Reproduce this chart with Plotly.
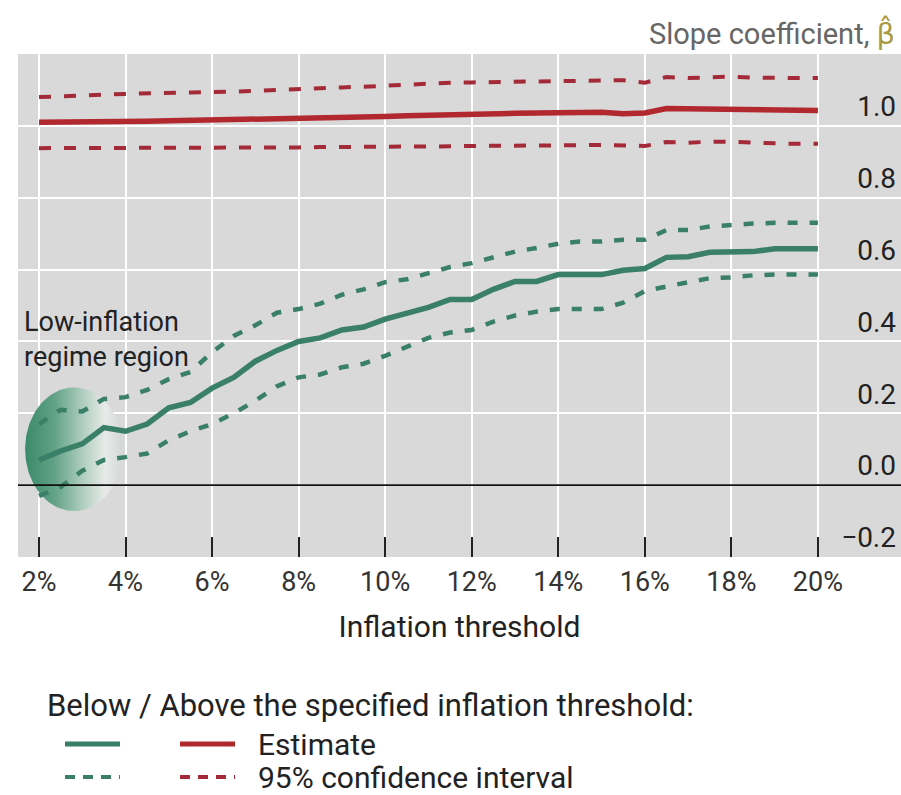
import math
import plotly.graph_objects as go

# Inflation thresholds (%) at which the slope coefficient is estimated
thresholds = [2.0, 2.5, 3.0, 3.5, 4.0, 4.5, 5.0, 5.5, 6.0, 6.5, 7.0, 7.5, 8.0,
              8.5, 9.0, 9.5, 10.0, 10.5, 11.0, 11.5, 12.0, 12.5, 13.0, 13.5,
              14.0, 14.5, 15.0, 15.5, 16.0, 16.5, 17.0, 17.5, 18.0, 18.5,
              19.0, 19.5, 20.0]

# Below the threshold: estimate and 95% confidence band
below_est = [0.070, 0.095, 0.115, 0.160, 0.150, 0.170, 0.215, 0.230, 0.270,
             0.300, 0.345, 0.375, 0.400, 0.410, 0.432, 0.440, 0.462, 0.480,
             0.495, 0.517, 0.517, 0.545, 0.567, 0.567, 0.586, 0.586, 0.586,
             0.598, 0.603, 0.634, 0.636, 0.648, 0.650, 0.650, 0.658, 0.658,
             0.658]
below_hi = [0.170, 0.210, 0.205, 0.240, 0.245, 0.265, 0.295, 0.315, 0.370,
            0.415, 0.445, 0.480, 0.490, 0.505, 0.530, 0.545, 0.565, 0.573,
            0.590, 0.607, 0.618, 0.635, 0.650, 0.660, 0.672, 0.678, 0.678,
            0.683, 0.683, 0.710, 0.710, 0.720, 0.725, 0.728, 0.730, 0.730,
            0.730]
below_lo = [-0.030, -0.005, 0.040, 0.070, 0.078, 0.088, 0.125, 0.150, 0.170,
            0.200, 0.235, 0.275, 0.300, 0.308, 0.328, 0.338, 0.360, 0.385,
            0.410, 0.425, 0.432, 0.455, 0.472, 0.483, 0.490, 0.490, 0.490,
            0.508, 0.540, 0.553, 0.563, 0.576, 0.578, 0.584, 0.586, 0.586,
            0.586]

# Above the threshold: estimate and 95% confidence band
above_est = [1.010, 1.010, 1.011, 1.012, 1.012, 1.013, 1.014, 1.015, 1.015,
             1.016, 1.017, 1.018, 1.019, 1.021, 1.022, 1.024, 1.026, 1.028,
             1.030, 1.032, 1.033, 1.033, 1.035, 1.036, 1.037, 1.038, 1.038,
             1.034, 1.036, 1.048, 1.047, 1.047, 1.048, 1.046, 1.044, 1.043,
             1.043]
above_hi = [1.080, 1.083, 1.086, 1.087, 1.089, 1.091, 1.092, 1.093, 1.094,
            1.095, 1.097, 1.100, 1.103, 1.105, 1.107, 1.109, 1.112, 1.114,
            1.117, 1.120, 1.121, 1.122, 1.123, 1.124, 1.125, 1.126, 1.126,
            1.127, 1.120, 1.136, 1.133, 1.136, 1.137, 1.134, 1.133, 1.133,
            1.133]
above_lo = [0.938, 0.938, 0.938, 0.939, 0.939, 0.939, 0.939, 0.940, 0.940,
            0.940, 0.940, 0.940, 0.940, 0.941, 0.941, 0.941, 0.941, 0.942,
            0.942, 0.943, 0.944, 0.944, 0.945, 0.945, 0.946, 0.946, 0.947,
            0.946, 0.944, 0.955, 0.953, 0.956, 0.956, 0.953, 0.951, 0.950,
            0.950]

x_ticks = [2, 4, 6, 8, 10, 12, 14, 16, 18, 20]
x_tick_labels = ["2%", "4%", "6%", "8%", "10%", "12%", "14%", "16%", "18%", "20%"]
y_ticks = [-0.2, 0.0, 0.2, 0.4, 0.6, 0.8, 1.0]
y_tick_labels = ["\u22120.2", "0.0", "0.2", "0.4", "0.6", "0.8", "1.0"]

GREEN = "#3a7f67"
RED = "#b2282f"
RED_DASH = "#a32a36"
FONT = "Roboto"
TEXT = "#222222"

fig = go.Figure()

# Shaded "low-inflation regime" blob (ellipse with left-to-right gradient)
cx, cy, rx, ry = 2.81, 0.10, 1.13, 0.172
ang = [i * 2 * math.pi / 120 for i in range(121)]
fig.add_trace(go.Scatter(
    x=[cx + rx * math.cos(a) for a in ang],
    y=[cy + ry * math.sin(a) for a in ang],
    mode="lines", line=dict(width=0), fill="toself",
    fillgradient=dict(type="horizontal",
                      colorscale=[[0, "#3a8a6a"], [0.3, "#62a287"],
                                  [0.6, "#b2cfc2"], [0.82, "#e8eae8"],
                                  [1, "#d3d8d5"]]),
    hoverinfo="skip", showlegend=False))

dash_g = "10px,12px"
dash_r = "12px,13px"
fig.add_trace(go.Scatter(x=thresholds, y=above_hi, mode="lines",
                         line=dict(color=RED_DASH, width=4, dash=dash_r), showlegend=False))
fig.add_trace(go.Scatter(x=thresholds, y=above_lo, mode="lines",
                         line=dict(color=RED_DASH, width=4, dash=dash_r), showlegend=False))
fig.add_trace(go.Scatter(x=thresholds, y=above_est, mode="lines",
                         line=dict(color=RED, width=5.5), showlegend=False))
fig.add_trace(go.Scatter(x=thresholds, y=below_hi, mode="lines",
                         line=dict(color=GREEN, width=4.5, dash=dash_g), showlegend=False))
fig.add_trace(go.Scatter(x=thresholds, y=below_lo, mode="lines",
                         line=dict(color=GREEN, width=4.5, dash=dash_g), showlegend=False))
fig.add_trace(go.Scatter(x=thresholds, y=below_est, mode="lines",
                         line=dict(color=GREEN, width=5.5), showlegend=False))

# zero line drawn on top of the shaded blob
fig.add_shape(type="line", xref="paper", x0=0, x1=1, yref="y", y0=0, y1=0,
              line=dict(color="#111111", width=1.6), layer="above")

fig.update_layout(
    width=901, height=795,
    margin=dict(l=18, r=0, t=54, b=238),
    paper_bgcolor="white", plot_bgcolor="#d9d9d9",
    font=dict(family=FONT, color=TEXT, size=28),
    xaxis=dict(range=[1.515, 21.92], tickvals=x_ticks, ticktext=x_tick_labels,
               showgrid=True, gridcolor="white", gridwidth=2,
               ticks="inside", ticklen=20, tickwidth=1.6, tickcolor="#222222",
               showline=False, zeroline=False, ticklabelstandoff=6,
               tickfont=dict(size=27, color="#333333"),
               title=dict(text="Inflation threshold", font=dict(size=30, color=TEXT),
                          standoff=18)),
    yaxis=dict(range=[-0.2, 1.2], tickvals=y_ticks, ticktext=y_tick_labels,
               side="right", ticklabelposition="inside top", ticklabelstandoff=2,
               showgrid=True, gridcolor="white", gridwidth=2, zeroline=False,
               ticks="", showline=False,
               tickfont=dict(size=28, color=TEXT)),
)

# axis caption at top right; the beta-hat uses a font that stacks the combining mark
fig.add_annotation(xref="paper", yref="paper", x=0.9955, y=1, yshift=21,
                   xanchor="right", yanchor="middle", showarrow=False,
                   text=("Slope coefficient, <span style='color:#a99b3e;"
                         "font-family:DejaVu Sans'>\u03b2\u0302</span>"),
                   font=dict(size=29, color="#666666"))

# region label
fig.add_annotation(xref="paper", yref="paper", x=0.004, y=(795 - 238 - 339) / 503,
                   xanchor="left", yanchor="middle", showarrow=False, align="left",
                   text="Low-inflation<br>regime region",
                   font=dict(size=27, color=TEXT))

# legend block below the axes
def px_x(p):
    return (p - 18) / 883

def px_y(p):
    return (795 - 238 - p) / 503

fig.add_annotation(xref="paper", yref="paper", x=px_x(45), y=px_y(705),
                   xanchor="left", yanchor="middle", showarrow=False,
                   text="Below / Above the specified inflation threshold:",
                   font=dict(size=31, color=TEXT))
legend_rows = [("Estimate", None, 744), ("95% confidence interval", "dash", 777)]
for label, dash, ypx in legend_rows:
    for color, x0, x1 in [(GREEN, 65, 120), (RED if dash is None else RED_DASH, 180, 235)]:
        fig.add_shape(type="line", xref="paper", yref="paper",
                      x0=px_x(x0), x1=px_x(x1), y0=px_y(ypx), y1=px_y(ypx),
                      line=dict(color=color, width=5 if dash is None else 4,
                                dash="10px,8px" if dash else "solid"))
    fig.add_annotation(xref="paper", yref="paper", x=px_x(256), y=px_y(ypx),
                       xanchor="left", yanchor="middle", showarrow=False,
                       text=label, font=dict(size=30, color=TEXT))

fig.write_html("out.html")
